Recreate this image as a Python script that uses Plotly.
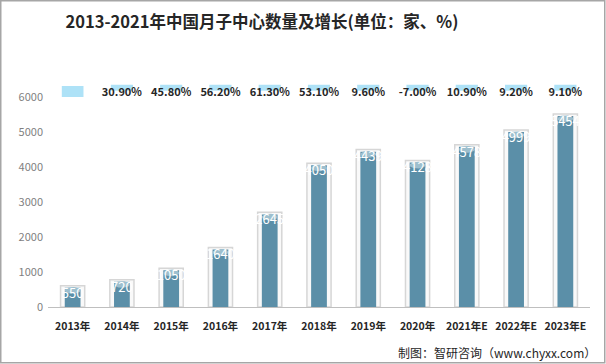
import math
import plotly.graph_objects as go

years = ["2013年", "2014年", "2015年", "2016年", "2017年", "2018年", "2019年",
         "2020年", "2021年E", "2022年E", "2023年E"]
counts = [550, 720, 1050, 1640, 2645, 4050, 4439, 4128, 4578, 4999, 5454]
growth = [None, 30.9, 45.8, 56.2, 61.3, 53.1, 9.6, -7.0, 10.9, 9.2, 9.1]
y_ticks = [0, 1000, 2000, 3000, 4000, 5000, 6000]

W, H = 606, 364
ML, MR, MT, MB = 48, 16, 76, 57
YMAX = 6600
FONT = "Noto Sans CJK SC"

idx = list(range(len(years)))
growth_text = ["" if g is None else f"{g:.2f}%" for g in growth]
band_x = [i for i, g in zip(idx, growth) if g is not None]

# ellipse tops of cylinders, derived from the data
ex, ey = [], []
for i, c in zip(idx, counts):
    for k in range(41):
        t = 2 * math.pi * k / 40
        ex.append(i + 0.16 * math.cos(t))
        ey.append(c - 75 + 95 * math.sin(t))
    ex.append(None)
    ey.append(None)

fig = go.Figure()
# outer glass cylinder
fig.add_trace(go.Bar(
    x=idx, y=[c + 60 for c in counts], width=0.49,
    marker=dict(color="rgba(240,240,240,0.4)", line=dict(color="#d6d6d6", width=1.5)),
    hoverinfo="skip", showlegend=False))
# inner bars
fig.add_trace(go.Bar(
    x=idx, y=counts, width=0.32,
    marker=dict(color="#5b8fa8", line=dict(width=0)),
    showlegend=False))
fig.add_trace(go.Scatter(
    x=ex, y=ey, mode="lines", fill="toself", fillcolor="#9dbfce",
    line=dict(width=0, color="#9dbfce"), hoverinfo="skip", showlegend=False))
# value labels
fig.add_trace(go.Scatter(
    x=idx, y=counts, mode="text", text=[str(c) for c in counts],
    textposition="bottom center",
    textfont=dict(family=FONT, size=13, color="white"),
    showlegend=False, hoverinfo="skip"))
# growth bands (light blue strip behind top of text)
fig.add_trace(go.Bar(
    x=band_x, y=[170] * len(band_x), base=[6180] * len(band_x), width=0.45,
    marker=dict(color="#aee2f7", line=dict(width=0)),
    showlegend=False, hoverinfo="skip"))
fig.add_trace(go.Scatter(
    x=idx, y=[6110] * len(idx), mode="text", text=growth_text,
    textposition="middle center",
    textfont=dict(family=FONT, size=11, color="#262626", weight="bold"),
    showlegend=False, hoverinfo="skip"))

shapes = []
# legend key for growth series
shapes.append(dict(type="rect", xref="x", yref="y",
                   x0=-0.22, x1=0.22, y0=6000, y1=6314,
                   fillcolor="#aee2f7", line=dict(width=0)))
# outer frame
pw = W - ML - MR
ph = H - MT - MB
def px(xp):
    return (xp - ML) / pw
def py(yp):
    return (H - MB - yp) / ph
shapes.append(dict(type="rect", xref="paper", yref="paper",
                   x0=px(0.75), x1=px(W - 1.25), y0=py(H - 1.25), y1=py(0.75),
                   line=dict(color="#a6a6a6", width=1.5), fillcolor="rgba(0,0,0,0)"))

fig.update_layout(
    width=W, height=H,
    margin=dict(l=ML, r=MR, t=MT, b=MB),
    paper_bgcolor="white", plot_bgcolor="white",
    barmode="overlay",
    title=dict(text="2013-2021年中国月子中心数量及增长(单位：家、%)",
               x=262 / W, xanchor="center", xref="container",
               y=1 - 22 / H, yanchor="middle",
               font=dict(family=FONT, size=16.5, color="#262626", weight="bold")),
    xaxis=dict(tickmode="array", tickvals=idx, ticktext=years,
               range=[-0.5, len(years) - 0.5],
               showline=True, linecolor="#bfbfbf", linewidth=1,
               ticks="", showgrid=False, zeroline=False, ticklabelstandoff=9,
               tickfont=dict(family=FONT, size=10.5, color="#262626", weight="bold")),
    yaxis=dict(range=[0, YMAX], tickmode="array", tickvals=y_ticks,
               showgrid=False, zeroline=False, showline=False, ticks="",
               ticklabelstandoff=4,
               tickfont=dict(family=FONT, size=11, color="#7f7f7f")),
    shapes=shapes,
    annotations=[dict(text="制图：智研咨询（www.chyxx.com）", xref="paper", yref="paper",
                      x=px(W - 8), y=py(352), xanchor="right", yanchor="middle",
                      showarrow=False,
                      font=dict(family=FONT, size=12, color="#262626"))],
)

fig.write_html("out.html", config={"displayModeBar": False},
               post_script="document.body.style.margin='0';document.body.style.overflow='hidden';")
